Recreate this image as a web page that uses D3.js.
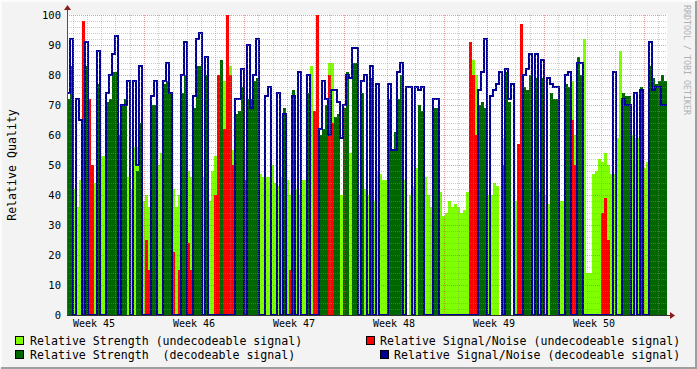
<!DOCTYPE html>
<html>
<head>
<meta charset="utf-8">
<script src="https://cdn.jsdelivr.net/npm/d3@7"></script>
<style>
html, body { margin: 0; padding: 0; background: #f3f3f3; }
svg { display: block; font-family: "DejaVu Sans Mono", monospace; }
</style>
</head>
<body>
<svg id="chart" width="697" height="369"></svg>
<script>
// one sample every 1/200 of the 6 week window (about 5 hours)
var strengthUndecodeable = [
  0,0,42,36,45,45,0,50,48,44,0,53,53,0,0,0,0,64,48,0,
  46,42,56,56,0,38,40,36,0,0,50,54,54,0,0,42,36,40,40,0,
  48,46,0,35,0,46,0,38,48,53,75,84,78,83,83,55,47,0,0,55,
  45,40,40,0,47,46,46,46,50,44,43,46,48,45,40,0,42,40,45,45,
  0,83,50,0,0,0,0,84,84,0,0,40,0,50,54,0,0,40,41,42,
  40,0,38,48,47,45,45,43,0,0,0,0,45,0,40,43,49,0,0,46,
  40,36,0,0,41,33,34,38,36,37,36,34,35,41,52,85,80,69,0,0,
  40,40,44,43,0,59,0,0,0,38,45,0,0,0,0,45,0,41,0,40,
  37,0,0,0,38,38,0,0,78,60,67,0,92,14,14,47,48,52,51,54,
  50,47,47,59,88,59,0,0,60,59,59,0,49,51,0,0,0,0,60,0
];
var snUndecodeable = [
  0,0,0,0,0,98,0,72,50,0,0,0,0,0,0,0,0,60,15,0,
  0,0,0,0,0,0,25,15,0,0,0,0,0,0,0,21,0,15,0,0,
  24,15,0,0,0,0,0,0,0,40,80,75,62,100,80,50,0,0,0,45,
  0,0,0,0,0,0,0,0,0,0,0,0,0,0,15,0,0,0,0,0,
  0,0,68,100,60,0,0,80,64,0,0,0,43,0,0,0,0,0,0,0,
  0,0,0,0,0,0,0,0,0,0,0,0,0,0,0,0,0,0,0,0,
  0,0,0,0,0,0,0,0,0,0,0,0,0,0,91,80,60,0,0,0,
  0,0,0,0,0,50,0,0,0,0,57,97,0,0,0,0,0,0,0,0,
  0,0,0,0,0,0,0,0,65,50,0,0,0,0,0,0,0,0,34,39,
  25,0,0,0,0,0,0,0,0,0,0,0,0,0,0,0,0,0,0,0
];
var strengthDecodeable = [
  72,83,0,0,0,0,83,0,0,0,77,0,0,71,72,81,81,0,70,72,
  0,0,0,48,64,0,0,0,70,70,0,0,77,78,74,0,0,0,74,80,
  0,0,69,83,83,0,80,0,0,0,0,85,0,0,0,0,67,68,76,0,
  72,72,78,79,0,0,0,0,0,0,0,0,69,0,0,75,0,0,0,0,
  74,0,0,0,60,62,70,0,0,66,67,0,69,81,0,84,84,0,74,0,
  0,79,0,0,0,0,0,72,55,61,72,80,0,0,0,0,0,70,68,0,
  0,0,69,69,0,0,0,0,0,0,0,0,0,0,0,0,0,70,71,69,
  0,0,0,0,0,0,81,71,0,0,0,0,76,75,80,0,79,0,79,0,
  0,74,72,72,0,0,77,76,0,0,86,80,0,0,0,0,0,0,0,0,
  0,0,0,0,0,74,73,73,0,0,0,76,0,0,83,79,77,78,80,78
];
var snDecodeable = [
  74,92,0,72,65,0,91,0,0,0,88,0,0,74,80,87,93,0,70,70,
  78,0,78,50,83,0,0,0,73,78,0,0,78,84,74,0,0,0,80,91,
  0,0,73,92,94,0,86,0,0,0,0,0,0,0,0,0,72,72,82,0,
  90,69,80,92,0,0,73,76,0,0,74,0,67,0,0,73,0,81,0,0,
  80,0,0,0,62,78,72,60,75,75,71,59,70,80,79,89,89,0,78,80,
  0,83,0,77,0,0,0,77,55,55,81,84,0,76,76,0,76,75,76,0,
  0,0,72,72,0,0,0,0,0,0,0,0,0,0,0,0,0,75,81,92,
  0,73,75,77,81,0,82,72,77,0,0,0,80,82,87,0,87,0,85,0,
  79,77,76,76,0,0,80,81,0,0,84,84,0,0,0,0,0,0,0,0,
  0,0,81,0,0,72,70,70,0,74,0,75,0,0,91,75,76,76,70,70
];

var yTicks = [0, 10, 20, 30, 40, 50, 60, 70, 80, 90, 100];
var legendLabels = [
  "Relative Strength (undecodeable signal)",
  "Relative Signal/Noise (undecodeable signal)",
  "Relative Strength  (decodeable signal)",
  "Relative Signal/Noise (decodeable signal)"
];
var colors = ["#80ff00", "#ff0000", "#006600", "#000094"];

var plot = {left: 67, top: 15, width: 600, height: 300};
var start = new Date(2009, 10, 3, 14, 40);
var end = d3.timeDay.offset(start, 42);
var stepMs = (end - start) / strengthUndecodeable.length;

var svg = d3.select("#chart");

// frame
svg.append("rect").attr("width", 697).attr("height", 369).attr("fill", "#f3f3f3");
svg.append("path").attr("d", "M1,368V1H696").attr("stroke", "#fcfcfc").attr("stroke-width", 2).attr("fill", "none");
svg.append("path").attr("d", "M1,368H696V1").attr("stroke", "#9e9e9e").attr("stroke-width", 2).attr("fill", "none");

var x = d3.scaleTime().domain([start, end]).range([0, plot.width]);
var y = d3.scaleLinear().domain([0, 100]).range([plot.height, 0]);

var g = svg.append("g").attr("transform", "translate(" + plot.left + "," + plot.top + ")");

g.append("rect").attr("width", plot.width).attr("height", plot.height).attr("fill", "#ffffff");

function toPoints(arr) {
  var pts = arr.map(function(v, i) { return {t: new Date(+start + i * stepMs), v: v}; });
  pts.push({t: end, v: arr[arr.length - 1]});
  return pts;
}

var area = d3.area()
  .curve(d3.curveStepAfter)
  .x(function(d) { return x(d.t); })
  .y0(y(0))
  .y1(function(d) { return y(d.v); });

var line = d3.line()
  .curve(d3.curveStepAfter)
  .x(function(d) { return x(d.t); })
  .y(function(d) { return y(d.v); });

var clip = svg.append("clipPath").attr("id", "plotClip");
clip.append("rect").attr("width", plot.width).attr("height", plot.height + 1);

var data = g.append("g").attr("clip-path", "url(#plotClip)");

data.append("path").attr("d", area(toPoints(strengthUndecodeable))).attr("fill", colors[0]);
data.append("path").attr("d", area(toPoints(snUndecodeable))).attr("fill", colors[1]);
data.append("path").attr("d", area(toPoints(strengthDecodeable))).attr("fill", colors[2]);
data.append("path").attr("d", line(toPoints(snDecodeable)))
  .attr("fill", "none").attr("stroke", colors[3]).attr("stroke-width", 2);

// grid (drawn over the data like rrdtool does)
var grid = g.append("g").attr("fill", "none").attr("stroke-dasharray", "1,1");

d3.range(2, 100, 2).filter(function(v) { return v % 10 != 0; }).forEach(function(v) {
  grid.append("line").attr("x1", 0).attr("x2", plot.width)
    .attr("y1", Math.round(y(v)) + 0.5).attr("y2", Math.round(y(v)) + 0.5)
    .attr("stroke", "rgba(140,140,140,0.45)");
});
d3.timeDay.range(start, end).forEach(function(d) {
  if (d.getDay() == 1) return;
  grid.append("line").attr("y1", 0).attr("y2", plot.height)
    .attr("x1", Math.round(x(d)) + 0.5).attr("x2", Math.round(x(d)) + 0.5)
    .attr("stroke", "rgba(140,140,140,0.45)");
});
yTicks.filter(function(v) { return v > 0; }).forEach(function(v) {
  grid.append("line").attr("x1", 0).attr("x2", plot.width)
    .attr("y1", Math.round(y(v)) + 0.5).attr("y2", Math.round(y(v)) + 0.5)
    .attr("stroke", "rgba(210,60,60,0.5)");
});
d3.timeMonday.range(start, end).forEach(function(d) {
  grid.append("line").attr("y1", 0).attr("y2", plot.height)
    .attr("x1", Math.round(x(d)) + 0.5).attr("x2", Math.round(x(d)) + 0.5)
    .attr("stroke", "rgba(210,60,60,0.5)");
});

// y labels
g.selectAll(".ylab").data(yTicks).enter().append("text")
  .attr("class", "ylab")
  .attr("x", -6).attr("y", function(d) { return y(d); })
  .attr("dy", "0.35em")
  .attr("text-anchor", "end")
  .attr("font-size", "10.5px")
  .attr("fill", "#000")
  .text(function(d) { return d; });

// week labels, centred in each week
var weeks = d3.timeMonday.range(d3.timeMonday.floor(start), end)
  .map(function(d) { return {d: d, mid: new Date(+d + 3.5 * 864e5)}; })
  .filter(function(w) { return w.mid >= start && w.mid <= end; });
var fmtWeek = d3.timeFormat("%V");
g.selectAll(".xlab").data(weeks).enter().append("text")
  .attr("class", "xlab")
  .attr("x", function(w) { return x(w.mid); })
  .attr("y", plot.height + 12)
  .attr("text-anchor", "middle")
  .attr("font-size", "10px")
  .attr("fill", "#000")
  .text(function(w) { return "Week " + (+fmtWeek(w.d)); });

// axes with arrows
g.append("line").attr("x1", 0.5).attr("x2", 0.5).attr("y1", plot.height).attr("y2", -8)
  .attr("stroke", "#505050").attr("stroke-width", 1);
g.append("line").attr("x1", 0).attr("x2", plot.width + 6).attr("y1", plot.height + 0.5).attr("y2", plot.height + 0.5)
  .attr("stroke", "#303030").attr("stroke-width", 1);
g.append("path").attr("d", "M-3,-5L0.5,-10L4,-5Z").attr("fill", "#8b1c1c");
g.append("path").attr("d", "M" + (plot.width + 3) + "," + (plot.height - 3) + "L" + (plot.width + 8) + "," + (plot.height + 0.5) + "L" + (plot.width + 3) + "," + (plot.height + 4) + "Z").attr("fill", "#8b1c1c");

// axis title
svg.append("text")
  .attr("transform", "translate(16,165) rotate(-90)")
  .attr("text-anchor", "middle")
  .attr("font-size", "11.6px")
  .attr("fill", "#000")
  .text("Relative Quality");

// watermark
svg.append("text")
  .attr("transform", "translate(684,5) rotate(90)")
  .attr("font-size", "8.3px")
  .attr("fill", "#b0b0b0")
  .text("RRDTOOL / TOBI OETIKER");

// legend
var legendPos = [
  {bx: 15.5, tx: 30, y: 341},
  {bx: 366.5, tx: 380, y: 341},
  {bx: 15.5, tx: 30, y: 355},
  {bx: 380.5, tx: 394, y: 355}
];
legendLabels.forEach(function(lbl, i) {
  var p = legendPos[i];
  svg.append("rect").attr("x", p.bx).attr("y", p.y - 4.5).attr("width", 8).attr("height", 8)
    .attr("fill", colors[i]).attr("stroke", "#000").attr("stroke-width", 1);
  svg.append("text").attr("x", p.tx).attr("y", p.y).attr("dy", "0.35em")
    .attr("font-size", "11.6px").attr("fill", "#000")
    .style("white-space", "pre")
    .text(lbl);
});
</script>
</body>
</html>
